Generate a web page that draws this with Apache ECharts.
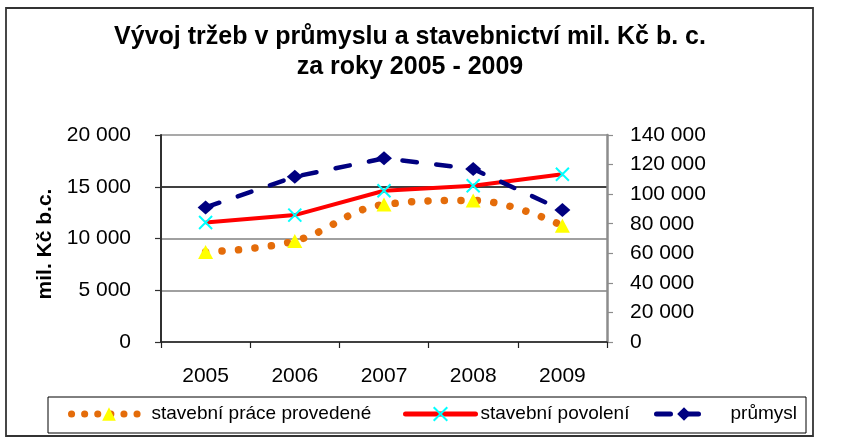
<!DOCTYPE html>
<html>
<head>
<meta charset="utf-8">
<script src="https://cdn.jsdelivr.net/npm/echarts@6/dist/echarts.min.js"></script>
<style>
  html, body { margin: 0; padding: 0; background: #fff; }
  #chart { width: 846px; height: 445px; }
</style>
</head>
<body>
<div id="chart"></div>
<script>
// data
var years = ['2005', '2006', '2007', '2008', '2009'];
var pracePrvedene = [8700, 9760, 13280, 13680, 11240];   // left axis
var povoleni = [11550, 12260, 14610, 15100, 16200];      // left axis
var prumysl = [91000, 111800, 124200, 117000, 89200];     // right axis
var leftTicks = { min: 0, max: 20000, step: 5000 };
var rightTicks = { min: 0, max: 140000, step: 20000 };

var FONT = '"Liberation Sans", Arial, sans-serif';

function fmt(v) {
	return String(v).replace(/\B(?=(\d{3})+(?!\d))/g, ' ');
}

var myChart = echarts.init(document.getElementById('chart'), null, { renderer: 'canvas' });

var legendText = { fontFamily: FONT, fontSize: 19, color: '#000', lineHeight: 20 };

var option = {
	animation: false,
	backgroundColor: '#fff',
	textStyle: { fontFamily: FONT },
	title: {
		text: 'Vývoj tržeb v průmyslu a stavebnictví mil. Kč b. c.\nza roky 2005 - 2009',
		left: 410,
		textAlign: 'center',
		top: 22,
		padding: 0,
		textStyle: {
			fontFamily: FONT,
			fontSize: 25,
			fontWeight: 'bold',
			color: '#000',
			lineHeight: 30
		}
	},
	grid: { left: 161, right: 239, top: 135, bottom: 103, containLabel: false },
	// three separate legends so each item sits where it does in the picture
	legend: [
		{
			data: ['stavební práce provedené'],
			left: 68, top: 404, padding: 0,
			itemWidth: 75, itemHeight: 17,
			lineStyle: { width: 7, type: [0.1, 13], cap: 'round' },
			textStyle: legendText
		},
		{
			data: ['stavební povolení'],
			left: 403, top: 404, padding: 0,
			itemWidth: 70, itemHeight: 17,
			lineStyle: { width: 5, cap: 'round' },
			textStyle: legendText
		},
		{
			data: ['průmysl'],
			left: 654, top: 404, padding: 0,
			itemWidth: 55, itemHeight: 17,
			lineStyle: { width: 5, type: [14, 14], cap: 'round' },
			textStyle: { fontFamily: FONT, fontSize: 19, color: '#000', lineHeight: 20, padding: [0, 0, 0, 14] }
		}
	],
	xAxis: {
		type: 'category',
		data: years,
		boundaryGap: true,
		axisLine: { lineStyle: { color: '#202020', width: 1.5 } },
		axisTick: { show: true, length: 6, lineStyle: { color: '#202020', width: 1.2 } },
		axisLabel: { fontFamily: FONT, fontSize: 21, color: '#000', margin: 24 },
		splitLine: { show: false }
	},
	yAxis: [
		{
			type: 'value',
			position: 'left',
			min: leftTicks.min, max: leftTicks.max, interval: leftTicks.step,
			name: 'mil. Kč b.c.',
			nameLocation: 'middle',
			nameGap: 105,
			nameRotate: 90,
			nameTextStyle: { fontFamily: FONT, fontSize: 21, fontWeight: 'bold', color: '#000', padding: [0, 11, 0, 0] },
			axisLine: { show: true, lineStyle: { color: '#303030', width: 2 } },
			axisTick: { show: true, length: 6, lineStyle: { color: '#303030', width: 1.2 } },
			axisLabel: { fontFamily: FONT, fontSize: 21, color: '#000', margin: 30, formatter: fmt },
			splitLine: {
				show: true,
				lineStyle: { color: ['#808080', '#808080', '#808080', '#000000', '#8c8c8c'], width: 1.5 }
			}
		},
		{
			type: 'value',
			position: 'right',
			min: rightTicks.min, max: rightTicks.max, interval: rightTicks.step,
			axisLine: { show: true, lineStyle: { color: '#8c8c8c', width: 2.5 } },
			axisTick: { show: true, length: 6, lineStyle: { color: '#8c8c8c', width: 1.2 } },
			axisLabel: { fontFamily: FONT, fontSize: 21, color: '#000', margin: 23, formatter: fmt },
			splitLine: { show: false }
		}
	],
	series: [
		{
			name: 'stavební práce provedené',
			type: 'line',
			yAxisIndex: 0,
			data: pracePrvedene,
			smooth: 0.4,
			symbol: 'triangle',
			symbolSize: [15, 14],
			showAllSymbol: true,
			itemStyle: { color: '#FFFF00', borderWidth: 0 },
			lineStyle: { color: '#E46C0A', width: 7.5, type: [0.1, 16.4], cap: 'round' }
		},
		{
			name: 'stavební povolení',
			type: 'line',
			yAxisIndex: 0,
			data: povoleni,
			symbol: 'path://M0,0L10,10M0,10L10,0',
			symbolSize: 13,
			showAllSymbol: true,
			itemStyle: { color: '#00FFFF', borderColor: '#00FFFF', borderWidth: 2 },
			lineStyle: { color: '#FF0000', width: 4 }
		},
		{
			name: 'průmysl',
			type: 'line',
			yAxisIndex: 1,
			data: prumysl,
			symbol: 'diamond',
			symbolSize: [16, 14],
			showAllSymbol: true,
			itemStyle: { color: '#000080', borderWidth: 0 },
			lineStyle: { color: '#000080', width: 4.5, type: [14.5, 19.5], cap: 'round' }
		}
	],
	graphic: [
		// outer chart border
		{
			type: 'rect',
			shape: { x: 6, y: 8, width: 807, height: 428 },
			style: { fill: 'none', stroke: '#333', lineWidth: 1.8 },
			z: -1
		},
		// legend box
		{
			type: 'rect',
			shape: { x: 48, y: 397, width: 758, height: 36 },
			style: { fill: 'none', stroke: '#000', lineWidth: 1 },
			z: -1
		}
	]
};

myChart.setOption(option);
</script>
</body>
</html>
